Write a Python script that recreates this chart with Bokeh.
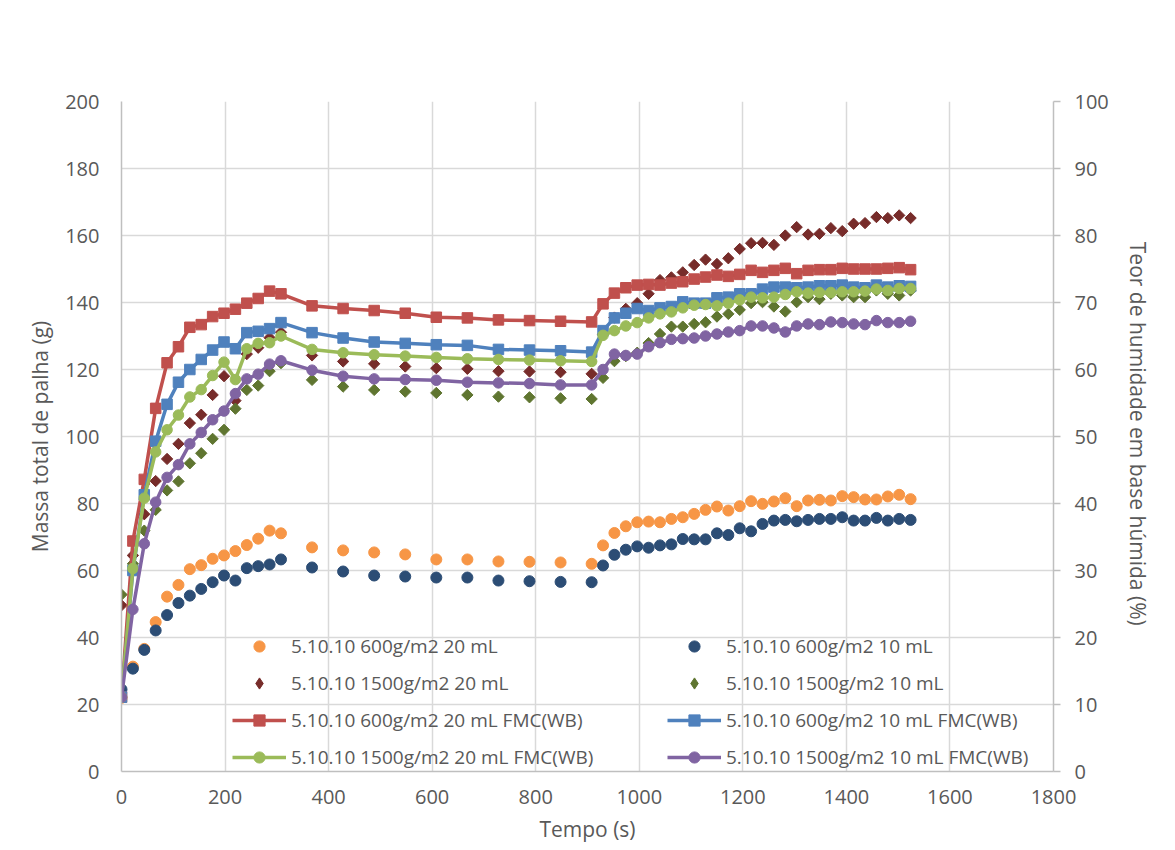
import math
from bokeh.plotting import figure
from bokeh.models import Range1d, LinearAxis, Legend, LegendItem, FixedTicker
from bokeh.embed import file_html
from bokeh.resources import INLINE

# ---------------- data ----------------
tempo = [0, 22, 44, 66, 88, 110, 132, 154, 176, 198, 220, 242, 264, 286, 308,
         368, 428, 488, 548, 608, 668, 728, 788, 848, 908,
         930, 952, 974, 996, 1018, 1040, 1062, 1084, 1106, 1128, 1150, 1172, 1194, 1216,
         1238, 1260, 1282, 1304, 1326, 1348, 1370, 1392, 1414, 1436, 1458, 1480, 1502, 1524]

# total straw mass (g) - left axis
massa_600_20 = [22.0, 31.3, 36.6, 44.6, 52.2, 55.7, 60.4, 61.6, 63.5, 64.5, 65.8, 67.6, 69.5, 71.9, 71.1,
                66.9, 66.0, 65.4, 64.8, 63.3, 63.3, 62.7, 62.6, 62.4, 62.0,
                67.5, 71.2, 73.2, 74.4, 74.6, 74.4, 75.4, 75.9, 76.9, 78.1, 79.1, 77.9, 79.2, 80.7,
                79.9, 80.6, 81.6, 79.2, 80.9, 81.1, 80.9, 82.2, 81.9, 81.2, 81.2, 82.1, 82.6, 81.3]
massa_600_10 = [24.5, 30.7, 36.3, 42.1, 46.7, 50.3, 52.5, 54.5, 56.5, 58.5, 57.0, 60.7, 61.3, 61.8, 63.3,
                60.9, 59.7, 58.5, 58.2, 57.9, 57.9, 57.0, 56.8, 56.6, 56.5,
                61.5, 64.7, 66.2, 67.2, 66.8, 67.5, 67.8, 69.4, 69.3, 69.3, 71.1, 70.6, 72.6, 71.7,
                73.9, 74.9, 75.1, 74.7, 75.1, 75.4, 75.4, 75.9, 74.9, 74.9, 75.7, 74.9, 75.4, 75.1]
massa_1500_20 = [49.6, 64.5, 76.8, 86.7, 93.3, 97.8, 104.0, 106.5, 112.4, 118.0, 110.7, 124.6, 126.5, 129.5, 131.1,
                 124.2, 122.4, 121.7, 120.9, 120.4, 120.2, 119.5, 119.4, 119.2, 118.7,
                 130.5, 135.5, 138.1, 139.8, 142.6, 146.7, 147.5, 149.0, 151.2, 152.8, 151.5, 153.2, 156.0, 157.7,
                 157.8, 157.2, 160.0, 162.5, 160.3, 160.5, 162.2, 161.3, 163.5, 163.7, 165.5, 165.2, 166.0, 165.2]
massa_1500_10 = [52.8, 62.0, 71.9, 78.1, 83.9, 86.6, 92.0, 95.0, 99.3, 102.0, 108.3, 113.9, 115.2, 119.5, 121.9,
                 116.9, 114.9, 113.9, 113.4, 113.0, 112.4, 111.9, 111.7, 111.4, 111.2,
                 117.5, 122.5, 124.0, 125.0, 127.9, 130.6, 132.8, 132.8, 133.6, 134.1, 135.8, 136.6, 137.8, 139.8,
                 140.1, 138.8, 137.3, 140.1, 141.6, 141.0, 142.6, 142.1, 141.6, 141.6, 143.6, 142.6, 142.1, 143.6]

# moisture content, wet basis (%) - right axis
fmc_600_20 = [11.1, 34.4, 43.6, 54.2, 61.0, 63.4, 66.3, 66.7, 67.9, 68.4, 69.0, 69.9, 70.6, 71.7, 71.3,
              69.5, 69.1, 68.8, 68.4, 67.8, 67.7, 67.4, 67.3, 67.2, 67.1,
              69.8, 71.4, 72.2, 72.6, 72.7, 72.6, 72.9, 73.1, 73.5, 73.8, 74.1, 73.9, 74.2, 74.8,
              74.5, 74.8, 75.1, 74.3, 74.8, 74.9, 74.9, 75.1, 75.0, 75.0, 75.0, 75.1, 75.2, 74.9]
fmc_600_10 = [11.1, 30.0, 41.3, 49.3, 54.8, 58.1, 60.0, 61.5, 62.9, 64.1, 63.1, 65.5, 65.7, 66.1, 67.0,
              65.5, 64.7, 64.1, 63.9, 63.7, 63.6, 63.0, 62.9, 62.8, 62.6,
              65.8, 67.7, 68.4, 69.1, 68.8, 69.2, 69.4, 70.1, 69.9, 69.9, 70.7, 70.8, 71.3, 71.3,
              72.0, 72.3, 72.3, 72.2, 72.3, 72.5, 72.5, 72.6, 72.3, 72.2, 72.6, 72.3, 72.5, 72.4]
fmc_1500_20 = [11.1, 30.3, 40.8, 47.7, 51.0, 53.2, 55.9, 57.0, 59.1, 61.1, 58.5, 63.1, 63.9, 64.0, 65.0,
               63.0, 62.5, 62.2, 62.0, 61.8, 61.6, 61.5, 61.4, 61.3, 61.2,
               65.1, 65.8, 66.5, 67.0, 67.7, 68.3, 68.6, 69.2, 69.6, 69.7, 69.5, 69.9, 70.4, 70.8,
               70.7, 70.8, 71.2, 71.6, 71.4, 71.5, 71.5, 71.6, 71.6, 71.7, 72.0, 71.8, 72.1, 72.1]
fmc_1500_10 = [11.1, 24.2, 34.0, 40.2, 43.9, 45.8, 48.9, 50.6, 52.5, 53.8, 56.4, 58.6, 59.3, 60.8, 61.3,
               59.9, 59.0, 58.6, 58.5, 58.4, 58.1, 58.0, 57.9, 57.7, 57.7,
               60.0, 62.3, 62.1, 62.3, 63.4, 64.0, 64.5, 64.6, 64.7, 65.0, 65.3, 65.6, 65.8, 66.5,
               66.5, 66.2, 65.6, 66.5, 66.8, 66.7, 67.1, 67.0, 66.8, 66.7, 67.3, 67.0, 67.0, 67.2]

labels = ["5.10.10 600g/m2 20 mL", "5.10.10 600g/m2 10 mL",
          "5.10.10 1500g/m2 20 mL", "5.10.10 1500g/m2 10 mL",
          "5.10.10 600g/m2 20 mL FMC(WB)", "5.10.10 600g/m2 10 mL FMC(WB)",
          "5.10.10 1500g/m2 20 mL FMC(WB)", "5.10.10 1500g/m2 10 mL FMC(WB)"]

x_ticks = [0, 200, 400, 600, 800, 1000, 1200, 1400, 1600, 1800]
y_ticks = [0, 20, 40, 60, 80, 100, 120, 140, 160, 180, 200]
pct_ticks = [0, 10, 20, 30, 40, 50, 60, 70, 80, 90, 100]

x_title = "Tempo (s)"
y_title = "Massa total de palha (g)"
y2_title = "Teor de humidade em base húmida  (%)"

# ---------------- styling ----------------
FONT = "Open Sans"
TXT = "#595959"
GRID = "#D9D9D9"
AXIS = "#BFBFBF"

p = figure(width=1175, height=850, output_backend="svg", toolbar_location=None,
           x_range=Range1d(0, 1800), y_range=Range1d(0, 200),
           min_border_left=121, min_border_right=122, min_border_top=101, min_border_bottom=79)
p.extra_y_ranges = {"pct": Range1d(0, 100)}
p.outline_line_color = None
p.background_fill_color = "white"
p.border_fill_color = "white"

p.xgrid.ticker = FixedTicker(ticks=x_ticks)
p.ygrid.ticker = FixedTicker(ticks=y_ticks)
for g in (p.xgrid[0], p.ygrid[0]):
    g.grid_line_color = GRID
    g.grid_line_width = 1.5

def style_axis(ax):
    ax.axis_line_color = AXIS
    ax.axis_line_width = 1.5
    ax.minor_tick_line_color = None
    ax.major_label_text_font = FONT
    ax.major_label_text_font_size = "20px"
    ax.major_label_text_color = TXT
    ax.axis_label_text_font = FONT
    ax.axis_label_text_font_size = "21px"
    ax.axis_label_text_font_style = "normal"
    ax.axis_label_text_color = TXT

xa = p.xaxis[0]
xa.ticker = FixedTicker(ticks=x_ticks)
xa.axis_label = x_title
style_axis(xa)
xa.major_tick_line_color = None
xa.major_tick_out = 0
xa.major_tick_in = 0
xa.major_label_standoff = 18
xa.axis_label_standoff = 8

ya = p.yaxis[0]
ya.ticker = FixedTicker(ticks=y_ticks)
ya.axis_label = y_title
style_axis(ya)
ya.major_tick_line_color = None
ya.major_tick_out = 0
ya.major_tick_in = 0
ya.major_label_standoff = 22
ya.axis_label_standoff = 8

ra = LinearAxis(y_range_name="pct", ticker=FixedTicker(ticks=pct_ticks), axis_label=y2_title)
style_axis(ra)
ra.major_tick_line_color = AXIS
ra.major_tick_line_width = 1.5
ra.major_tick_out = 7
ra.major_tick_in = 0
ra.major_label_standoff = 14
ra.axis_label_standoff = 12
p.add_layout(ra, "right")

# ---------------- glyphs ----------------
C_OR, C_NV, C_DR, C_DG = "#F79646", "#2C4D75", "#772C2A", "#5F7530"

r_o = p.scatter(tempo, massa_600_20, marker="circle", size=11, fill_color=C_OR, line_color=C_OR)
r_n = p.scatter(tempo, massa_600_10, marker="circle", size=11, fill_color=C_NV, line_color=C_NV)
p.scatter(tempo, massa_1500_20, marker="square", angle=math.pi / 4, size=8,
          fill_color=C_DR, line_color=C_DR)
p.scatter(tempo, massa_1500_10, marker="square", angle=math.pi / 4, size=8,
          fill_color=C_DG, line_color=C_DG)
# legend-only diamond glyphs (a single NaN point, never drawn in the plot)
nan = [float("nan")]
r_dr = p.scatter(nan, nan, marker="diamond", size=11, fill_color=C_DR, line_color=C_DR)
r_dg = p.scatter(nan, nan, marker="diamond", size=11, fill_color=C_DG, line_color=C_DG)

def fmc(vals, color, marker):
    l = p.line(tempo, vals, line_color=color, line_width=3.5, y_range_name="pct")
    s = p.scatter(tempo, vals, marker=marker, size=10.5, fill_color=color, line_color=color,
                  y_range_name="pct")
    return [l, s]

r_red = fmc(fmc_600_20, "#C0504D", "square")
r_blu = fmc(fmc_600_10, "#4F81BD", "square")
r_grn = fmc(fmc_1500_20, "#9BBB59", "circle")
r_pur = fmc(fmc_1500_10, "#8064A2", "circle")

def make_legend(items, x):
    leg = Legend(items=items, location=(x, 0), orientation="vertical",
                 glyph_width=54, glyph_height=28, label_height=28, spacing=9,
                 label_standoff=5, padding=0, margin=0,
                 border_line_color=None, background_fill_alpha=0,
                 label_text_font=FONT, label_text_font_size="19px", label_text_color=TXT)
    p.add_layout(leg)

make_legend([LegendItem(label=labels[0], renderers=[r_o]),
             LegendItem(label=labels[2], renderers=[r_dr]),
             LegendItem(label=labels[4], renderers=r_red),
             LegendItem(label=labels[6], renderers=r_grn)], 111)
make_legend([LegendItem(label=labels[1], renderers=[r_n]),
             LegendItem(label=labels[3], renderers=[r_dg]),
             LegendItem(label=labels[5], renderers=r_blu),
             LegendItem(label=labels[7], renderers=r_pur)], 546)

open("out.html", "w").write(file_html(p, INLINE))
